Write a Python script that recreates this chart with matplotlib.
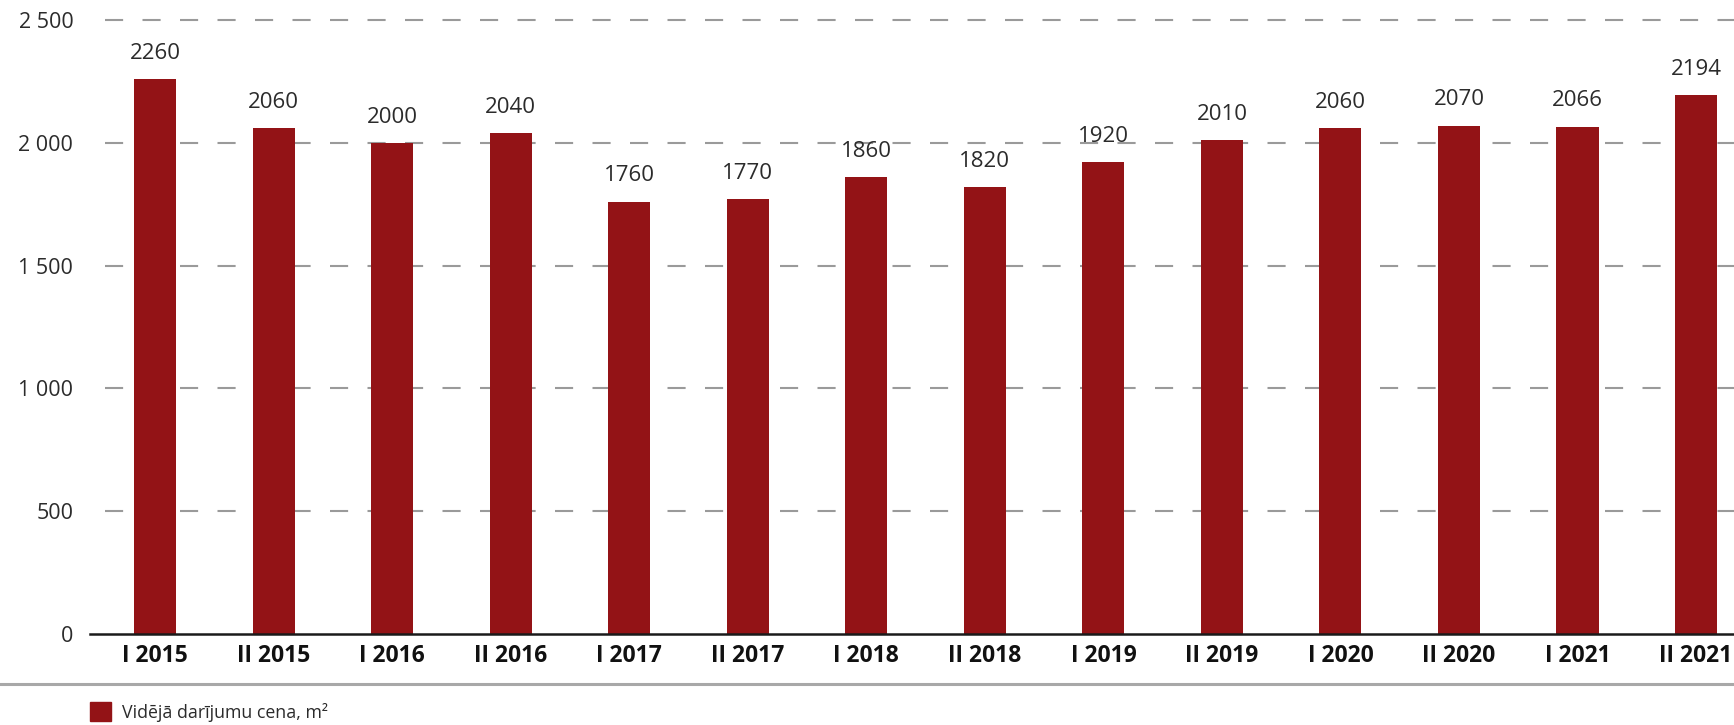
import matplotlib
matplotlib.use("Agg")
import matplotlib.pyplot as plt
from matplotlib.lines import Line2D
from matplotlib.patches import Patch

# data
periods = ["I 2015", "II 2015", "I 2016", "II 2016", "I 2017", "II 2017", "I 2018",
           "II 2018", "I 2019", "II 2019", "I 2020", "II 2020", "I 2021", "II 2021"]
avg_price = [2260, 2060, 2000, 2040, 1760, 1770, 1860, 1820, 1920, 2010, 2060, 2070, 2066, 2194]
y_ticks = [0, 500, 1000, 1500, 2000, 2500]
legend_label = "Vidējā darījumu cena, m²"

BAR_COLOR = "#931316"
TEXT_COLOR = "#2b2b2b"

plt.rcParams["font.family"] = ["Open Sans", "DejaVu Sans"]

W, H = 1734, 725
fig = plt.figure(figsize=(W / 100, H / 100), dpi=100)
ax = fig.add_axes([90 / W, 1 - 634 / H, 1 - 90 / W, (634 - 10) / H])

x = list(range(len(periods)))
ax.bar(x, avg_price, width=0.355, color=BAR_COLOR, zorder=3)

for xi, v in zip(x, avg_price):
    ax.annotate(str(v), (xi, v), xytext=(0, 11), textcoords="offset points",
                ha="center", va="bottom", fontsize=16, color=TEXT_COLOR)

ax.set_xlim(-0.549, 13.32)
ax.set_ylim(0, 2500 + 10 * 2500 / 614)
ax.set_yticks(y_ticks)
ax.set_yticklabels([f"{t:,}".replace(",", " ") for t in y_ticks])
ax.set_xticks(x)
ax.set_xticklabels(periods, fontweight="bold")

ax.tick_params(axis="y", length=0, pad=12, labelsize=15.5, labelcolor=TEXT_COLOR)
ax.tick_params(axis="x", length=0, pad=7, labelsize=16.5, labelcolor="#111111")

for t in y_ticks[1:]:
    ax.axhline(t, xmin=15 / (W - 90), color="#9a9a9a", linewidth=1.5,
               dashes=(8.7, 9.3), zorder=1)

for s in ["top", "right", "left"]:
    ax.spines[s].set_visible(False)
ax.spines["bottom"].set_linewidth(1.8)
ax.spines["bottom"].set_color("#1a1a1a")
ax.spines["bottom"].set_zorder(4)

# separator line above the legend
fig.add_artist(Line2D([0, 1], [1 - 684 / H, 1 - 684 / H], transform=fig.transFigure,
                      color="#a8a8a8", linewidth=2.2))

fig.legend(handles=[Patch(color=BAR_COLOR, label=legend_label)],
           loc="center left", bbox_to_anchor=(74 / W, 1 - 712 / H),
           frameon=False, handlelength=1.2, handleheight=1.2, handletextpad=0.6,
           fontsize=12.8, labelcolor=TEXT_COLOR)

fig.savefig("out.png", dpi=100)
